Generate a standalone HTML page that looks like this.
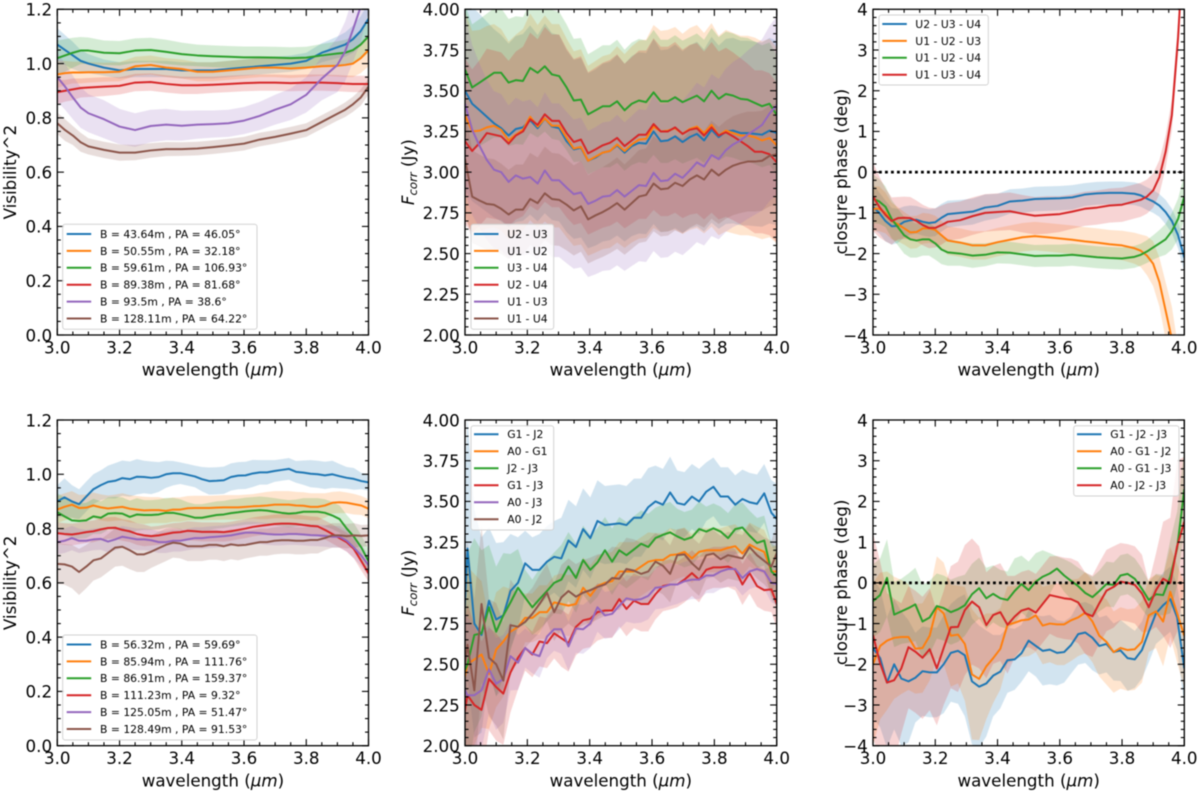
<!DOCTYPE html>
<html lang="en">
<head>
<meta charset="utf-8">
<title>Visibility, correlated flux and closure phase panels</title>
<style>
html,body{margin:0;padding:0;background:#fff;}
svg{display:block;filter:blur(0.4px);}
text{font-family:"DejaVu Sans","Liberation Sans",sans-serif;fill:#000;}
</style>
</head>
<body>
<svg id="figure" xmlns="http://www.w3.org/2000/svg" width="1200" height="793" viewBox="0 0 1200 793"></svg>
<script>
// ---------- shared x grids ----------
const gridSmoothV = [3.0,3.025,3.05,3.075,3.1,3.15,3.2,3.25,3.3,3.35,3.4,3.45,3.5,3.55,3.6,3.65,3.7,3.75,3.8,3.85,3.9,3.925,3.95,3.975,4.0];
const gridSmoothCP = [3.0,3.02,3.04,3.06,3.08,3.1,3.12,3.14,3.16,3.18,3.2,3.22,3.24,3.28,3.32,3.36,3.4,3.44,3.48,3.52,3.56,3.6,3.64,3.68,3.72,3.76,3.8,3.84,3.86,3.88,3.9,3.92,3.94,3.96,3.98,4.0];
const grid44 = [3.0,3.023,3.047,3.07,3.093,3.116,3.14,3.163,3.186,3.209,3.233,3.256,3.279,3.302,3.326,3.349,3.372,3.395,3.419,3.442,3.465,3.488,3.512,3.535,3.558,3.581,3.605,3.628,3.651,3.674,3.698,3.721,3.744,3.767,3.791,3.814,3.837,3.86,3.884,3.907,3.93,3.953,3.977,4.0];
const gridShift45 = [2.985,3.008,3.03,3.053,3.077,3.1,3.123,3.146,3.17,3.193,3.216,3.239,3.263,3.286,3.309,3.332,3.356,3.379,3.402,3.425,3.449,3.472,3.495,3.518,3.542,3.565,3.588,3.611,3.635,3.658,3.681,3.704,3.728,3.751,3.774,3.797,3.82,3.844,3.867,3.89,3.913,3.937,3.96,3.983,4.006];
const grid45 = [3.0,3.023,3.045,3.068,3.091,3.114,3.136,3.159,3.182,3.205,3.227,3.25,3.273,3.295,3.318,3.341,3.364,3.386,3.409,3.432,3.455,3.477,3.5,3.523,3.545,3.568,3.591,3.614,3.636,3.659,3.682,3.705,3.727,3.75,3.773,3.795,3.818,3.841,3.864,3.886,3.909,3.932,3.955,3.977,4.0];

// ---------- tick labels ----------
const xTicks = [3.0,3.2,3.4,3.6,3.8,4.0];
const visTicks = [0.0,0.2,0.4,0.6,0.8,1.0,1.2];
const fluxTicks = [2.00,2.25,2.50,2.75,3.00,3.25,3.50,3.75,4.00];
const phaseTicks = [-4,-3,-2,-1,0,1,2,3,4];

// ---------- panel A: top-left visibility ----------
const a1Labels = ["B = 43.64m , PA = 46.05°","B = 50.55m , PA = 32.18°","B = 59.61m , PA = 106.93°","B = 89.38m , PA = 81.68°","B = 93.5m , PA = 38.6°","B = 128.11m , PA = 64.22°"];
const a1Blue = [1.07,1.05,1.03,1.01,1.0,.985,.975,.98,.98,.98,.975,.975,.975,.98,.985,.99,.995,1.0,1.01,1.04,1.06,1.07,1.09,1.12,1.165];
const a1BlueErr = [.06,.055,.05,.04,.035,.03,.03,.03,.03,.03,.03,.03,.03,.03,.03,.03,.03,.03,.03,.035,.04,.045,.05,.055,.06];
const a1Orange = [.96,.965,.967,.967,.968,.968,.97,.99,.995,.985,.98,.97,.97,.975,.98,.985,.985,.982,.985,.99,.992,.995,1.0,1.02,1.05];
const a1OrangeErr = [.05,.045,.04,.04,.038,.035,.035,.035,.035,.035,.035,.035,.035,.035,.035,.035,.035,.035,.035,.035,.04,.045,.05,.055,.06];
const a1Green = [1.02,1.03,1.04,1.048,1.048,1.04,1.038,1.048,1.05,1.043,1.035,1.03,1.027,1.025,1.023,1.023,1.022,1.02,1.022,1.03,1.037,1.04,1.05,1.07,1.10];
const a1GreenErr = [.065,.06,.055,.05,.048,.045,.045,.045,.045,.045,.042,.04,.04,.04,.04,.04,.04,.04,.04,.042,.045,.048,.05,.055,.06];
const a1Red = [.895,.90,.905,.91,.912,.915,.918,.93,.932,.925,.92,.92,.922,.925,.928,.93,.93,.928,.93,.93,.928,.926,.925,.925,.925];
const a1RedErr = [.045,.04,.04,.035,.035,.035,.032,.032,.032,.032,.032,.032,.03,.03,.03,.03,.03,.03,.03,.03,.03,.03,.03,.03,.03];
const a1Purple = [.95,.915,.875,.838,.817,.795,.768,.755,.77,.775,.771,.775,.777,.78,.79,.807,.83,.85,.885,.945,.995,1.045,1.125,1.21,1.33];
const a1PurpleErr = [.09,.085,.08,.075,.07,.07,.065,.062,.06,.058,.055,.052,.05,.05,.05,.052,.055,.058,.065,.08,.1,.11,.12,.13,.14];
const a1Brown = [.78,.755,.735,.71,.695,.682,.672,.672,.68,.685,.685,.687,.692,.698,.705,.72,.73,.742,.755,.785,.815,.83,.85,.875,.915];
const a1BrownErr = [.04,.04,.035,.035,.03,.03,.03,.028,.027,.026,.025,.025,.025,.025,.025,.025,.025,.025,.025,.025,.025,.027,.028,.03,.03];

// ---------- panel B: top-middle correlated flux ----------
const b1Labels = ["U2 - U3","U1 - U2","U3 - U4","U2 - U4","U1 - U3","U1 - U4"];
const b1RelErr = [.175,.19,.11,.16,.16,.10];
const b1Blue = [3.50,3.42,3.38,3.34,3.30,3.27,3.225,3.265,3.275,3.32,3.27,3.33,3.28,3.27,3.19,3.14,3.15,3.07,3.09,3.12,3.13,3.165,3.12,3.16,3.18,3.175,3.25,3.19,3.195,3.22,3.185,3.215,3.235,3.195,3.26,3.215,3.25,3.255,3.24,3.24,3.235,3.23,3.255,3.24];
const b1Orange = [3.35,3.25,3.255,3.275,3.285,3.26,3.195,3.23,3.26,3.34,3.28,3.33,3.285,3.285,3.21,3.145,3.155,3.07,3.095,3.12,3.13,3.17,3.13,3.17,3.20,3.205,3.28,3.25,3.255,3.27,3.235,3.265,3.28,3.24,3.29,3.225,3.255,3.24,3.225,3.225,3.215,3.195,3.21,3.165];
const b1Green = [3.63,3.52,3.55,3.58,3.61,3.61,3.55,3.565,3.56,3.64,3.61,3.65,3.60,3.59,3.52,3.44,3.445,3.355,3.38,3.405,3.405,3.435,3.38,3.42,3.44,3.43,3.49,3.435,3.435,3.46,3.43,3.45,3.47,3.435,3.50,3.45,3.48,3.47,3.45,3.445,3.425,3.405,3.42,3.35];
const b1Red = [3.19,3.13,3.18,3.24,3.23,3.22,3.175,3.225,3.25,3.325,3.29,3.355,3.315,3.315,3.24,3.185,3.20,3.115,3.14,3.165,3.18,3.21,3.16,3.195,3.23,3.23,3.295,3.25,3.25,3.275,3.235,3.26,3.27,3.225,3.275,3.225,3.245,3.22,3.19,3.16,3.125,3.125,3.11,3.06];
const b1Purple = [3.42,3.26,3.16,3.075,3.015,3.0,2.94,2.98,2.96,2.97,2.93,3.01,2.95,2.95,2.905,2.865,2.875,2.805,2.825,2.85,2.855,2.89,2.85,2.885,2.92,2.915,2.995,2.945,2.95,2.99,2.965,3.01,3.06,3.035,3.105,3.08,3.135,3.17,3.195,3.23,3.26,3.29,3.36,3.41];
const b1Brown = [3.08,2.85,2.825,2.805,2.80,2.775,2.74,2.77,2.77,2.835,2.81,2.87,2.835,2.83,2.80,2.765,2.79,2.71,2.735,2.755,2.78,2.81,2.77,2.81,2.85,2.86,2.93,2.895,2.90,2.935,2.915,2.955,2.98,2.955,3.015,2.98,3.015,3.04,3.055,3.065,3.065,3.07,3.10,3.11];

// ---------- panel C: top-right closure phase ----------
const c1Labels = ["U2 - U3 - U4","U1 - U2 - U3","U1 - U2 - U4","U1 - U3 - U4"];
const c1Blue = [-.85,-1.0,-1.2,-1.33,-1.32,-1.22,-1.18,-1.17,-1.22,-1.25,-1.23,-1.12,-1.03,-1.0,-.97,-.87,-.83,-.72,-.70,-.66,-.65,-.64,-.62,-.55,-.52,-.51,-.51,-.53,-.57,-.65,-.72,-.82,-.98,-1.2,-1.55,-2.1];
const c1BlueErr = [.55,.5,.5,.45,.42,.38,.36,.34,.34,.34,.34,.34,.33,.32,.32,.32,.3,.3,.3,.3,.3,.3,.3,.28,.28,.28,.28,.28,.28,.28,.28,.28,.3,.3,.32,.35];
const c1Orange = [-.9,-.9,-1.0,-1.2,-1.28,-1.38,-1.48,-1.47,-1.38,-1.38,-1.42,-1.55,-1.68,-1.73,-1.8,-1.8,-1.72,-1.66,-1.6,-1.57,-1.6,-1.63,-1.66,-1.7,-1.73,-1.77,-1.8,-1.87,-1.93,-2.05,-2.25,-2.7,-3.4,-4.1,-5.2,-6.5];
const c1OrangeErr = [.55,.55,.5,.45,.42,.4,.4,.4,.38,.36,.35,.35,.35,.35,.35,.35,.35,.35,.35,.35,.35,.35,.35,.35,.35,.35,.36,.38,.4,.48,.55,.6,.7,.8,.9,1.0];
const c1Green = [-.65,-.72,-.85,-1.15,-1.35,-1.55,-1.65,-1.68,-1.65,-1.65,-1.75,-1.9,-1.97,-2.0,-2.05,-2.03,-1.97,-1.98,-2.02,-2.06,-2.05,-2.05,-2.03,-2.06,-2.09,-2.11,-2.12,-2.08,-2.03,-1.95,-1.85,-1.75,-1.65,-1.45,-1.15,-.6];
const c1GreenErr = [.6,.55,.5,.47,.45,.45,.45,.42,.4,.4,.4,.36,.33,.3,.3,.28,.27,.27,.27,.27,.27,.27,.27,.27,.27,.27,.27,.27,.27,.28,.3,.33,.38,.45,.5,.55];
const c1Red = [-.6,-.85,-1.05,-1.2,-1.13,-1.12,-1.13,-1.2,-1.3,-1.37,-1.37,-1.3,-1.22,-1.18,-1.08,-1.0,-.98,-.96,-1.02,-1.07,-1.05,-1.03,-.97,-.9,-.87,-.82,-.8,-.72,-.68,-.6,-.45,-.12,.5,1.4,3.3,6.0];
const c1RedErr = [.85,.75,.65,.58,.52,.52,.52,.5,.5,.5,.48,.48,.46,.46,.46,.46,.46,.46,.46,.46,.46,.44,.42,.42,.42,.42,.42,.42,.42,.42,.42,.42,.4,.38,.38,.4];

// ---------- panel D: bottom-left visibility ----------
const d1Labels = ["B = 56.32m , PA = 59.69°","B = 85.94m , PA = 111.76°","B = 86.91m , PA = 159.37°","B = 111.23m , PA = 9.32°","B = 125.05m , PA = 51.47°","B = 128.49m , PA = 91.53°"];
const d1Blue = [.90,.915,.90,.89,.918,.945,.96,.972,.976,.986,.982,.991,.99,.987,.99,1.0,1.004,1.004,.998,.992,.982,.975,.976,.978,.99,.995,.996,1.003,1.007,1.007,1.012,1.016,1.02,1.009,1.006,1.002,1.0,.996,1.0,.993,.987,.983,.975,.97];
const d1BlueErr = [.06,.07,.06,.055,.055,.055,.055,.06,.065,.065,.065,.065,.06,.06,.055,.05,.045,.04,.04,.04,.045,.05,.05,.05,.05,.05,.05,.05,.045,.045,.04,.04,.04,.04,.045,.05,.05,.05,.05,.045,.04,.04,.03,.03];
const d1Orange = [.87,.88,.888,.876,.877,.885,.878,.874,.877,.88,.873,.87,.867,.868,.868,.865,.87,.87,.875,.876,.876,.876,.877,.878,.878,.878,.88,.882,.883,.885,.888,.888,.888,.885,.884,.88,.88,.885,.895,.897,.895,.89,.885,.873];
const d1OrangeErr = [.05,.05,.05,.048,.048,.048,.048,.048,.048,.05,.05,.05,.05,.048,.048,.045,.045,.045,.045,.045,.045,.045,.045,.045,.045,.045,.045,.045,.048,.05,.05,.05,.05,.05,.05,.05,.05,.045,.04,.04,.038,.038,.035,.035];
const d1Green = [.86,.845,.83,.828,.83,.845,.84,.855,.857,.855,.843,.852,.85,.85,.852,.858,.858,.853,.847,.84,.84,.845,.85,.852,.857,.86,.864,.866,.868,.866,.862,.858,.855,.857,.862,.862,.862,.858,.848,.835,.80,.77,.73,.68];
const d1GreenErr = [.07,.07,.065,.065,.065,.065,.06,.06,.06,.06,.06,.06,.055,.055,.055,.055,.055,.055,.05,.05,.05,.05,.05,.05,.05,.05,.05,.05,.05,.05,.05,.05,.05,.05,.05,.05,.05,.05,.05,.05,.05,.05,.045,.045];
const d1Red = [.783,.78,.778,.782,.787,.79,.797,.802,.803,.795,.79,.78,.775,.772,.775,.78,.785,.787,.792,.79,.788,.788,.788,.787,.79,.795,.80,.806,.81,.813,.817,.818,.818,.817,.813,.81,.808,.795,.78,.765,.75,.725,.68,.635];
const d1RedErr = [.04,.04,.04,.04,.04,.04,.04,.04,.04,.04,.04,.04,.04,.035,.035,.035,.035,.035,.035,.035,.035,.035,.035,.035,.035,.035,.035,.035,.035,.035,.035,.035,.035,.035,.035,.035,.035,.035,.035,.035,.035,.035,.035,.03];
const d1Purple = [.75,.755,.765,.755,.755,.76,.762,.752,.76,.77,.765,.76,.76,.757,.75,.75,.755,.755,.76,.765,.765,.768,.77,.772,.775,.78,.785,.785,.783,.78,.778,.778,.78,.78,.778,.776,.775,.773,.77,.77,.755,.73,.70,.665];
const d1PurpleErr = [.045,.045,.045,.045,.04,.04,.04,.04,.04,.04,.04,.04,.04,.04,.04,.04,.04,.04,.04,.04,.04,.04,.04,.04,.04,.04,.04,.04,.04,.04,.04,.04,.04,.04,.04,.04,.04,.04,.04,.04,.04,.04,.04,.04];
const d1Brown = [.67,.668,.66,.64,.66,.683,.69,.71,.73,.733,.72,.705,.705,.715,.728,.74,.748,.745,.735,.735,.735,.74,.74,.735,.742,.738,.74,.745,.75,.75,.755,.757,.757,.755,.755,.758,.758,.765,.775,.775,.772,.775,.773,.775];
const d1BrownErr = [.075,.075,.08,.085,.08,.075,.07,.07,.07,.07,.07,.065,.065,.06,.06,.06,.055,.055,.055,.055,.055,.055,.055,.055,.055,.055,.05,.05,.05,.05,.05,.05,.05,.05,.05,.05,.05,.045,.045,.045,.045,.045,.04,.04];

// ---------- panel E: bottom-middle correlated flux ----------
const e1Labels = ["G1 - J2","A0 - G1","J2 - J3","G1 - J3","A0 - J3","A0 - J2"];
const e1ErrScale = [1,.75,.85,.7,.6,.8];
const e1ErrShape = [.8,.8,.7,.6,.45,.47,.45,.35,.28,.2,.2,.22,.22,.22,.25,.25,.25,.25,.25,.25,.24,.24,.24,.24,.24,.24,.24,.22,.22,.22,.2,.2,.2,.2,.18,.18,.18,.18,.18,.18,.18,.18,.18,.2,.22];
const e1Blue = [2.3,3.21,2.75,2.68,2.89,2.775,2.80,2.95,3.0,3.12,3.08,3.08,3.13,3.16,3.15,3.26,3.22,3.33,3.275,3.38,3.355,3.36,3.365,3.355,3.40,3.40,3.465,3.50,3.48,3.555,3.49,3.48,3.53,3.50,3.56,3.59,3.53,3.53,3.48,3.515,3.495,3.485,3.55,3.43,3.38];
const e1Orange = [2.3,2.50,2.53,2.56,2.44,2.59,2.64,2.70,2.73,2.785,2.785,2.82,2.82,2.88,2.87,2.86,2.87,2.97,2.92,2.98,3.0,3.01,3.07,3.07,3.07,3.10,3.13,3.14,3.14,3.17,3.175,3.19,3.15,3.19,3.2,3.2,3.2,3.215,3.225,3.18,3.235,3.21,3.19,3.07,3.07];
const e1Green = [2.4,2.50,2.68,2.69,2.85,2.70,2.80,2.88,2.97,2.91,2.85,2.90,2.95,3.0,3.02,3.10,3.03,3.14,3.08,3.125,3.20,3.13,3.20,3.17,3.205,3.24,3.22,3.275,3.295,3.31,3.285,3.265,3.28,3.33,3.315,3.335,3.315,3.275,3.33,3.34,3.29,3.245,3.26,3.07,3.03];
const e1Red = [2.05,2.31,2.25,2.22,2.41,2.36,2.32,2.45,2.54,2.60,2.56,2.64,2.63,2.69,2.66,2.63,2.73,2.77,2.78,2.82,2.83,2.83,2.90,2.84,2.89,2.87,2.87,2.93,2.98,2.99,2.99,3.02,3.06,3.02,3.08,3.095,3.095,3.10,3.08,2.99,3.06,2.98,2.955,2.96,2.84];
const e1Purple = [2.4,2.31,2.31,2.34,2.47,2.38,2.41,2.55,2.51,2.60,2.565,2.55,2.67,2.715,2.715,2.61,2.72,2.715,2.75,2.85,2.80,2.81,2.86,2.905,2.895,2.90,2.92,2.97,2.975,2.99,2.99,3.01,3.02,3.02,3.045,3.045,3.07,3.085,3.085,3.03,3.07,3.085,3.07,3.0,2.99];
const e1Brown = [2.3,2.62,2.34,2.87,2.54,2.50,2.40,2.74,2.73,2.76,2.81,2.87,2.94,2.82,2.91,2.95,2.915,2.94,2.955,2.975,2.99,3.03,3.025,3.085,3.075,3.055,3.07,3.13,3.105,3.055,3.17,3.175,3.12,3.08,3.17,3.18,3.145,3.17,3.16,3.15,3.22,3.17,3.135,3.10,3.21];

// ---------- panel F: bottom-right closure phase ----------
const f1Labels = ["G1 - J2 - J3","A0 - G1 - J2","A0 - G1 - J3","A0 - J2 - J3"];
const f1Blue = [-1.6,-1.85,-2.45,-2.0,-2.35,-2.42,-2.33,-2.17,-2.2,-2.2,-2.0,-1.72,-1.67,-1.78,-2.42,-2.55,-2.47,-2.28,-2.18,-1.9,-1.88,-1.73,-1.42,-1.55,-1.67,-1.64,-1.72,-1.7,-1.53,-1.26,-1.22,-1.35,-1.55,-1.5,-1.7,-1.66,-1.85,-1.88,-1.65,-1.2,-.75,-.55,-.4,-.85,-2.1];
const f1BlueErr = [1.7,1.7,1.6,1.6,1.65,1.5,1.1,1.1,1.1,1.1,1.2,1.2,1.3,1.5,1.55,1.5,1.3,1.0,.9,.8,.75,.7,.75,.75,.85,.85,.8,.75,.7,.75,.75,.8,.7,.7,.7,.75,.8,.7,.7,.75,.75,.8,.8,.8,.9];
const f1Orange = [-2.0,-1.55,-1.42,-1.35,-1.33,-1.33,-1.62,-1.6,-1.3,-.6,-.75,-1.3,-1.27,-1.5,-2.25,-2.36,-2.05,-1.85,-1.62,-1.03,-.98,-.92,-.9,-.8,-1.05,-1.0,-1.02,-1.02,-.92,-.85,-.73,-.95,-1.3,-1.45,-1.7,-1.6,-1.65,-1.63,-1.45,-.8,-.7,-.95,-.22,-.75,-1.3];
const f1OrangeErr = [2.0,1.8,1.7,1.5,1.4,1.3,1.1,1.1,1.1,1.25,1.25,1.25,1.2,1.4,1.6,1.5,1.3,1.1,1.0,.95,.9,.9,.9,.9,.95,.95,1.0,1.0,1.0,.95,1.0,1.0,1.0,1.05,1.0,1.0,1.0,1.0,1.0,.9,.9,1.1,1.1,1.2,1.3];
const f1Green = [-.45,-.3,.12,-.78,-.7,-.62,-.53,-.95,-.85,-.57,-.62,-.72,-.65,-.55,-.28,-.13,-.38,-.27,-.38,-.42,-.2,-.03,-.18,.03,.15,.23,.35,.18,.05,-.08,-.25,-.35,-.2,-.03,-.05,.18,.22,.1,-.15,-.42,-.28,-.3,.15,.85,2.3];
const f1GreenErr = [.9,.9,.95,.8,.8,.85,.9,.9,.9,.8,.8,.8,.8,.75,.75,.75,.75,.7,.7,.7,.8,.7,.7,.7,.65,.5,.3,.4,.45,.45,.5,.5,.5,.55,.55,.5,.5,.5,.5,.45,.5,.5,.9,.9,1.0];
const f1Red = [-1.28,-1.98,-2.45,-2.39,-2.1,-1.58,-1.69,-1.84,-1.63,-2.1,-1.6,-1.09,-1.08,-.67,-.46,-.6,-1.04,-.79,-.72,-1.03,-.83,-.68,-.63,-.73,-.52,-.3,-.34,-.38,-.4,-.48,-.75,-.82,-.5,-.19,-.1,.03,0,-.05,-.26,-.6,-.18,.1,0,.9,1.5];
const f1RedErr = [2.5,2.5,2.2,2.0,1.6,1.5,1.5,1.5,1.5,1.4,1.4,1.5,1.6,1.6,1.55,1.5,1.3,1.2,1.2,1.2,1.0,.95,.95,.95,.95,.95,1.0,1.0,1.0,1.0,1.0,1.0,1.0,1.0,1.0,.95,.95,.95,.95,.6,.9,1.4,1.6,2.1,1.6];

// ---------- colours ----------
const palette = ["#1f77b4","#ff7f0e","#2ca02c","#d62728","#9467bd","#8c564b"];

function relative(values, frac){ return values.map(function(v){ return v*frac; }); }
function scaled(shape, factor){ return shape.map(function(v){ return v*factor; }); }

// layout only (axes rectangles, legend boxes)
const panels = [
 {key:"vis-top", box:[57.3,9.3,368.5,335], xs:gridSmoothV, ylim:[0,1.2], ticks:visTicks, dec:1, minor:0.05, ylabel:"vis", ylx:10,
  values:[a1Blue,a1Orange,a1Green,a1Red,a1Purple,a1Brown],
  errs:[a1BlueErr,a1OrangeErr,a1GreenErr,a1RedErr,a1PurpleErr,a1BrownErr],
  labels:a1Labels, legend:{x:62.7,y:224.3,w:194.3,h:105,hx:66.7,tx:100,row0:234,dy:16.9}, zero:false},
 {key:"flux-top", box:[465,9.3,776.7,335], xs:grid44, ylim:[2,4], ticks:fluxTicks, dec:2, minor:0.05, ylabel:"flux", ylx:408,
  values:[b1Blue,b1Orange,b1Green,b1Red,b1Purple,b1Brown],
  errs:[relative(b1Blue,b1RelErr[0]),relative(b1Orange,b1RelErr[1]),relative(b1Green,b1RelErr[2]),relative(b1Red,b1RelErr[3]),relative(b1Purple,b1RelErr[4]),relative(b1Brown,b1RelErr[5])],
  labels:b1Labels, legend:{x:471,y:224.3,w:82.7,h:105,hx:474,tx:507.3,row0:234,dy:16.9}, zero:false},
 {key:"phase-top", box:[873,9.3,1184.3,335], xs:gridSmoothCP, ylim:[-4,4], ticks:phaseTicks, dec:0, minor:0.2, ylabel:"phase", ylx:841,
  values:[c1Blue,c1Orange,c1Green,c1Red],
  errs:[c1BlueErr,c1OrangeErr,c1GreenErr,c1RedErr],
  labels:c1Labels, legend:{x:879,y:15,w:109.3,h:70,hx:882.3,tx:915.3,row0:24,dy:16.9}, zero:true},
 {key:"vis-bottom", box:[57.3,420,368.5,745.7], xs:grid44, ylim:[0,1.2], ticks:visTicks, dec:1, minor:0.05, ylabel:"vis", ylx:10,
  values:[d1Blue,d1Orange,d1Green,d1Red,d1Purple,d1Brown],
  errs:[d1BlueErr,d1OrangeErr,d1GreenErr,d1RedErr,d1PurpleErr,d1BrownErr],
  labels:d1Labels, legend:{x:62.7,y:635,w:194.3,h:105,hx:66.7,tx:100,row0:644.5,dy:16.9}, zero:false},
 {key:"flux-bottom", box:[465,420,776.7,745.7], xs:gridShift45, ylim:[2,4], ticks:fluxTicks, dec:2, minor:0.05, ylabel:"flux", ylx:408,
  values:[e1Blue,e1Orange,e1Green,e1Red,e1Purple,e1Brown],
  errs:[scaled(e1ErrShape,e1ErrScale[0]),scaled(e1ErrShape,e1ErrScale[1]),scaled(e1ErrShape,e1ErrScale[2]),scaled(e1ErrShape,e1ErrScale[3]),scaled(e1ErrShape,e1ErrScale[4]),scaled(e1ErrShape,e1ErrScale[5])],
  labels:e1Labels, legend:{x:471,y:425.7,w:82.7,h:104.3,hx:474,tx:507.3,row0:434.3,dy:17}, zero:false},
 {key:"phase-bottom", box:[873,420,1184.3,745.7], xs:grid45, ylim:[-4,4], ticks:phaseTicks, dec:0, minor:0.2, ylabel:"phase", ylx:841,
  values:[f1Blue,f1Orange,f1Green,f1Red],
  errs:[f1BlueErr,f1OrangeErr,f1GreenErr,f1RedErr],
  labels:f1Labels, legend:{x:1073.7,y:425.7,w:105.3,h:70.3,hx:1077,tx:1110.3,row0:434.3,dy:17}, zero:true}
];

const NS = "http://www.w3.org/2000/svg";
const root = document.getElementById("figure");
function mk(tag, attrs, parent){
  const n = document.createElementNS(NS, tag);
  for (const k in attrs) n.setAttribute(k, attrs[k]);
  parent.appendChild(n);
  return n;
}

panels.forEach(function(p, pi){
  const L = p.box[0], T = p.box[1], R = p.box[2], B = p.box[3];
  const sx = function(v){ return L + (v - 3) / 1 * (R - L); };
  const sy = function(v){ return B - (v - p.ylim[0]) / (p.ylim[1] - p.ylim[0]) * (B - T); };

  const g = mk("g", {}, root);
  
  

  const defs = mk("defs", {}, g);
  const cp = mk("clipPath", {id:"clip" + pi}, defs);
  mk("rect", {x:L, y:T, width:R-L, height:B-T}, cp);

  const plot = mk("g", {"clip-path":"url(#clip" + pi + ")"}, g);
  
  

  // bands first
  p.values.forEach(function(vals, si){
    const err = p.errs[si];
    const up = vals.map(function(v,i){ return sx(p.xs[i]).toFixed(2) + "," + sy(v + err[i]).toFixed(2); });
    const lo = vals.map(function(v,i){ return sx(p.xs[i]).toFixed(2) + "," + sy(v - err[i]).toFixed(2); }).reverse();
    const band = mk("polygon", {points: up.concat(lo).join(" "), fill: palette[si], "fill-opacity": 0.2, stroke:"none"}, plot);
    
    
  });
  // lines
  p.values.forEach(function(vals, si){
    const pts = vals.map(function(v,i){ return sx(p.xs[i]).toFixed(2) + "," + sy(v).toFixed(2); }).join(" ");
    const line = mk("polyline", {points: pts, fill:"none", stroke: palette[si], "stroke-width": 2, "stroke-linejoin":"round"}, plot);
    
    
  });
  if (p.zero){
    const z = mk("line", {x1:L, x2:R, y1:sy(0), y2:sy(0), stroke:"#000", "stroke-width":2.8, "stroke-dasharray":"2.8 3.2"}, plot);
    
    
  }

  // ticks
  const tg = mk("g", {stroke:"#000", "stroke-width":1.1}, g);
  
  
  const nxm = 20, nym = Math.round((p.ylim[1]-p.ylim[0]) / p.minor);
  for (let i=0; i<=nxm; i++){
    const x = sx(3 + i/nxm), maj = i % 4 === 0, len = maj ? 6.6 : 3.5;
    mk("line", {x1:x, x2:x, y1:B, y2:B-len}, tg);
    mk("line", {x1:x, x2:x, y1:T, y2:T+len}, tg);
  }
  const majorEvery = Math.round((p.ticks[1]-p.ticks[0]) / p.minor);
  for (let i=0; i<=nym; i++){
    const y = sy(p.ylim[0] + i*p.minor), maj = i % majorEvery === 0, len = maj ? 6.6 : 3.5;
    mk("line", {x1:L, x2:L+len, y1:y, y2:y}, tg);
    mk("line", {x1:R, x2:R-len, y1:y, y2:y}, tg);
  }
  const frame = mk("rect", {x:L, y:T, width:R-L, height:B-T, fill:"none", stroke:"#000", "stroke-width":1.3}, g);
  
  

  // tick labels
  xTicks.forEach(function(t){
    const tx = mk("text", {x:sx(t), y:B+18.4, "text-anchor":"middle", "font-size":16.7}, g);
    tx.textContent = t.toFixed(1);
    
    
  });
  p.ticks.forEach(function(t){
    const ty = mk("text", {x:L-5.2, y:sy(t)+6.3, "text-anchor":"end", "font-size":16.7}, g);
    ty.textContent = (t < 0 ? "\u2212" : "") + Math.abs(t).toFixed(p.dec);
    
    
  });

  // axis labels
  const xl = mk("text", {x:(L+R)/2, y:B+40.6, "text-anchor":"middle", "font-size":16.7}, g);
  
  
  xl.appendChild(document.createTextNode("wavelength ("));
  const mu = mk("tspan", {"font-style":"italic"}, xl);
  mu.textContent = "\u03BCm";
  xl.appendChild(document.createTextNode(")"));

  const cy = (T+B)/2 + (p.ylabel === "phase" ? -0.5 : 0);
  const yl = mk("text", {x:p.ylx+5.8, y:cy, "text-anchor":"middle", "font-size":16.7, transform:"rotate(-90 " + (p.ylx+5.8) + " " + cy + ")"}, g);
  
  
  if (p.ylabel === "vis") yl.textContent = "Visibility^2";
  if (p.ylabel === "phase") yl.textContent = "closure phase (deg)";
  if (p.ylabel === "flux"){
    const f = mk("tspan", {"font-style":"italic"}, yl);
    f.textContent = "F";
    const sub = mk("tspan", {"font-style":"italic", "font-size":11.7, dy:3}, yl);
    sub.textContent = "corr";
    const rest = mk("tspan", {dy:-3}, yl);
    rest.textContent = " (Jy)";
  }

  // legend
  const lg = mk("g", {}, g);
  
  
  const lb = p.legend;
  mk("rect", {x:lb.x, y:lb.y, width:lb.w, height:lb.h, rx:2.5, ry:2.5, fill:"#fff", "fill-opacity":0.8, stroke:"#d2d2d2", "stroke-width":1}, lg);
  p.labels.forEach(function(label, si){
    const ry = lb.row0 + si*lb.dy;
    const h = mk("line", {x1:lb.hx, x2:lb.hx+24.5, y1:ry, y2:ry, stroke:palette[si], "stroke-width":2}, lg);
    
    
    const lt = mk("text", {x:lb.tx, y:ry+3.9, "font-size":10.8, fill:"#222"}, lg);
    lt.textContent = label;
    
    
  });
});
</script>
</body>
</html>
